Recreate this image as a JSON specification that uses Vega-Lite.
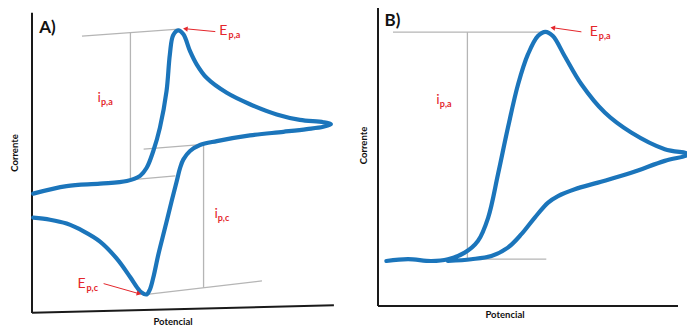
{
  "$schema": "https://vega.github.io/schema/vega-lite/v6.json",
  "padding": {"left": 9, "top": 7, "right": 0, "bottom": 0},
  "spacing": 23,
  "background": "white",
  "config": {
    "view": {"stroke": null},
    "axis": {"grid": false, "domain": false, "ticks": false, "labels": false, "titleFont": "Lato", "titleFontWeight": "bold", "titleFontSize": 9.5, "titleColor": "#111111"}
  },
  "datasets": {
    "cvA": [
      {"i": 1, "x": 0.4, "y": 39.8}, {"i": 2, "x": 11.5, "y": 42.3}, {"i": 3, "x": 22.6, "y": 43.1}, {"i": 4, "x": 31.5, "y": 44.0},
      {"i": 5, "x": 35.9, "y": 45.7}, {"i": 6, "x": 38.1, "y": 48.4}, {"i": 7, "x": 40.3, "y": 54.0}, {"i": 8, "x": 42.5, "y": 61.8},
      {"i": 9, "x": 44.7, "y": 74.0}, {"i": 10, "x": 45.8, "y": 86.2}, {"i": 11, "x": 46.9, "y": 92.6}, {"i": 12, "x": 48.6, "y": 94.2},
      {"i": 13, "x": 50.3, "y": 92.9}, {"i": 14, "x": 52.5, "y": 87.3}, {"i": 15, "x": 54.7, "y": 82.9}, {"i": 16, "x": 58.0, "y": 78.4},
      {"i": 17, "x": 64.7, "y": 73.4}, {"i": 18, "x": 72.4, "y": 69.6}, {"i": 19, "x": 81.3, "y": 66.2}, {"i": 20, "x": 89.0, "y": 64.4},
      {"i": 21, "x": 96.8, "y": 63.6}, {"i": 22, "x": 99.3, "y": 62.9}, {"i": 23, "x": 96.8, "y": 62.1}, {"i": 24, "x": 91.3, "y": 61.3},
      {"i": 25, "x": 83.5, "y": 60.4}, {"i": 26, "x": 72.4, "y": 59.2}, {"i": 27, "x": 61.4, "y": 57.3}, {"i": 28, "x": 55.8, "y": 56.0},
      {"i": 29, "x": 52.5, "y": 54.0}, {"i": 30, "x": 50.3, "y": 51.2}, {"i": 31, "x": 49.2, "y": 48.4}, {"i": 32, "x": 48.1, "y": 44.0},
      {"i": 33, "x": 46.4, "y": 37.3}, {"i": 34, "x": 44.2, "y": 28.4}, {"i": 35, "x": 42.0, "y": 19.6}, {"i": 36, "x": 40.3, "y": 11.8},
      {"i": 37, "x": 39.2, "y": 7.9}, {"i": 38, "x": 38.1, "y": 6.2}, {"i": 39, "x": 36.4, "y": 6.8}, {"i": 40, "x": 34.8, "y": 8.7},
      {"i": 41, "x": 32.6, "y": 12.0}, {"i": 42, "x": 28.1, "y": 18.2}, {"i": 43, "x": 22.6, "y": 23.8}, {"i": 44, "x": 17.0, "y": 27.3},
      {"i": 45, "x": 11.5, "y": 29.8}, {"i": 46, "x": 6.0, "y": 31.1}, {"i": 47, "x": 0.4, "y": 31.8}
    ],
    "cvB": [
      {"i": 1, "x": 2.8, "y": 15.1}, {"i": 2, "x": 10.0, "y": 15.7}, {"i": 3, "x": 17.8, "y": 15.1}, {"i": 4, "x": 23.3, "y": 15.7},
      {"i": 5, "x": 28.9, "y": 17.9}, {"i": 6, "x": 33.3, "y": 21.8}, {"i": 7, "x": 36.7, "y": 29.6}, {"i": 8, "x": 40.0, "y": 44.2},
      {"i": 9, "x": 43.3, "y": 59.8}, {"i": 10, "x": 46.7, "y": 74.4}, {"i": 11, "x": 50.0, "y": 84.5}, {"i": 12, "x": 53.3, "y": 90.6},
      {"i": 13, "x": 55.8, "y": 92.0}, {"i": 14, "x": 58.3, "y": 90.6}, {"i": 15, "x": 62.2, "y": 83.9}, {"i": 16, "x": 67.8, "y": 74.4},
      {"i": 17, "x": 75.6, "y": 64.9}, {"i": 18, "x": 84.4, "y": 58.2}, {"i": 19, "x": 95.6, "y": 52.6}, {"i": 20, "x": 103.3, "y": 51.1},
      {"i": 21, "x": 103.3, "y": 50.7}, {"i": 22, "x": 95.6, "y": 48.7}, {"i": 23, "x": 84.4, "y": 44.7}, {"i": 24, "x": 73.3, "y": 41.4},
      {"i": 25, "x": 65.6, "y": 39.2}, {"i": 26, "x": 60.0, "y": 36.9}, {"i": 27, "x": 56.7, "y": 34.7}, {"i": 28, "x": 52.2, "y": 29.6},
      {"i": 29, "x": 47.8, "y": 24.1}, {"i": 30, "x": 43.3, "y": 19.6}, {"i": 31, "x": 37.8, "y": 16.8}, {"i": 32, "x": 31.1, "y": 15.7},
      {"i": 33, "x": 23.3, "y": 15.1}
    ],
    "axesA": [
      {"x": 0, "y": 0, "x2": 0, "y2": 100.1},
      {"x": 0, "y": 0.1, "x2": 100.3, "y2": 2.6}
    ],
    "axesB": [
      {"x": 0, "y": 0, "x2": 0, "y2": 100},
      {"x": 0, "y": 0, "x2": 100, "y2": 0}
    ],
    "guidesA": [
      {"x": 16.6, "y": 92.3, "x2": 48.7, "y2": 94.6},
      {"x": 32.7, "y": 93.4, "x2": 32.7, "y2": 44.6},
      {"x": 31.6, "y": 44.3, "x2": 47.6, "y2": 45.7},
      {"x": 37.1, "y": 54.6, "x2": 57.0, "y2": 56.2},
      {"x": 57.0, "y": 55.7, "x2": 57.0, "y2": 8.4},
      {"x": 38.2, "y": 6.2, "x2": 76.4, "y2": 10.7}
    ],
    "guidesB": [
      {"x": 5.0, "y": 91.9, "x2": 56.1, "y2": 91.9},
      {"x": 29.8, "y": 91.9, "x2": 29.8, "y2": 15.7},
      {"x": 29.4, "y": 15.7, "x2": 56.1, "y2": 15.7}
    ],
    "arrowsA": [
      {"id": "Epa", "x": 60.9, "y": 93.8, "x2": 51.5, "y2": 94.7},
      {"id": "Epc", "x": 23.8, "y": 9.8, "x2": 35.0, "y2": 6.6}
    ],
    "arrowsB": [
      {"id": "Epa", "x": 67.8, "y": 92.0, "x2": 58.8, "y2": 93.3}
    ],
    "headsA": [
      {"id": "Epa", "x": 51.2, "y": 94.7},
      {"id": "Epc", "x": 35.3, "y": 6.5}
    ],
    "headsB": [
      {"id": "Epa", "x": 58.5, "y": 93.3}
    ],
    "textA": [
      {"kind": "panel", "t": "A)", "x": 2.4, "y": 93.4},
      {"kind": "main", "t": "E", "x": 62.2, "y": 92.7},
      {"kind": "sub", "t": "p,a", "x": 65.3, "y": 91.6},
      {"kind": "main", "t": "E", "x": 15.1, "y": 8.4},
      {"kind": "sub", "t": "p,c", "x": 18.1, "y": 7.3},
      {"kind": "main", "t": "i", "x": 21.8, "y": 70.4},
      {"kind": "sub", "t": "p,a", "x": 22.9, "y": 69.4},
      {"kind": "main", "t": "i", "x": 60.6, "y": 31.6},
      {"kind": "sub", "t": "p,c", "x": 61.7, "y": 30.6}
    ],
    "textB": [
      {"kind": "panel", "t": "B)", "x": 2.2, "y": 94.0},
      {"kind": "main", "t": "E", "x": 70.6, "y": 90.6},
      {"kind": "sub", "t": "p,a", "x": 73.6, "y": 89.5},
      {"kind": "main", "t": "i", "x": 19.4, "y": 67.7},
      {"kind": "sub", "t": "p,a", "x": 20.6, "y": 66.7}
    ]
  },
  "hconcat": [
    {
      "width": 301,
      "height": 305,
      "encoding": {
        "x": {"field": "x", "type": "quantitative", "scale": {"domain": [0, 100], "nice": false, "zero": false}, "axis": {"title": "Potencial", "titlePadding": 3, "titleX": 140.5}},
        "y": {"field": "y", "type": "quantitative", "scale": {"domain": [0, 101.67], "nice": false, "zero": false}, "axis": {"title": "Corrente", "titlePadding": 12.7, "titleY": 144.5}}
      },
      "layer": [
        {"data": {"name": "guidesA"}, "mark": {"type": "rule", "stroke": "#b5b5b5", "strokeWidth": 1.3}, "encoding": {"x2": {"field": "x2"}, "y2": {"field": "y2"}}},
        {"data": {"name": "axesA"}, "mark": {"type": "rule", "stroke": "#1a1a1a", "strokeWidth": 2}, "encoding": {"x2": {"field": "x2"}, "y2": {"field": "y2"}}},
        {"data": {"name": "cvA"}, "mark": {"type": "line", "stroke": "#1b75bb", "strokeWidth": 4.2, "interpolate": "catmull-rom", "strokeCap": "round", "strokeJoin": "round"}, "encoding": {"order": {"field": "i", "type": "quantitative"}}},
        {"data": {"name": "arrowsA"}, "mark": {"type": "rule", "stroke": "#e4262b", "strokeWidth": 1}, "encoding": {"x2": {"field": "x2"}, "y2": {"field": "y2"}}},
        {"data": {"name": "headsA"}, "transform": [{"filter": "datum.id == 'Epa'"}], "mark": {"type": "point", "shape": "triangle", "filled": true, "fill": "#e4262b", "opacity": 1, "size": 28, "angle": 276}},
        {"data": {"name": "headsA"}, "transform": [{"filter": "datum.id == 'Epc'"}], "mark": {"type": "point", "shape": "triangle", "filled": true, "fill": "#e4262b", "opacity": 1, "size": 28, "angle": 106}},
        {"data": {"name": "textA"}, "transform": [{"filter": "datum.kind == 'panel'"}], "mark": {"type": "text", "font": "Lato", "fontWeight": "bold", "fontSize": 17, "align": "left", "baseline": "alphabetic", "fill": "#111111"}, "encoding": {"text": {"field": "t"}}},
        {"data": {"name": "textA"}, "transform": [{"filter": "datum.kind == 'main'"}], "mark": {"type": "text", "font": "Lato", "fontSize": 14, "align": "left", "baseline": "alphabetic", "fill": "#e4262b"}, "encoding": {"text": {"field": "t"}}},
        {"data": {"name": "textA"}, "transform": [{"filter": "datum.kind == 'sub'"}], "mark": {"type": "text", "font": "Lato", "fontWeight": "bold", "fontSize": 9, "align": "left", "baseline": "alphabetic", "fill": "#e4262b"}, "encoding": {"text": {"field": "t"}}}
      ]
    },
    {
      "width": 312,
      "height": 298,
      "encoding": {
        "x": {"field": "x", "type": "quantitative", "scale": {"domain": [0, 104], "nice": false, "zero": false}, "axis": {"title": "Potencial", "titlePadding": 3, "titleX": 126.5}},
        "y": {"field": "y", "type": "quantitative", "scale": {"domain": [0, 100], "nice": false, "zero": false}, "axis": {"title": "Corrente", "titlePadding": 10, "titleY": 137}}
      },
      "layer": [
        {"data": {"name": "guidesB"}, "mark": {"type": "rule", "stroke": "#b5b5b5", "strokeWidth": 1.3}, "encoding": {"x2": {"field": "x2"}, "y2": {"field": "y2"}}},
        {"data": {"name": "axesB"}, "mark": {"type": "rule", "stroke": "#1a1a1a", "strokeWidth": 2}, "encoding": {"x2": {"field": "x2"}, "y2": {"field": "y2"}}},
        {"data": {"name": "cvB"}, "mark": {"type": "line", "stroke": "#1b75bb", "strokeWidth": 4.2, "interpolate": "catmull-rom", "strokeCap": "round", "strokeJoin": "round"}, "encoding": {"order": {"field": "i", "type": "quantitative"}}},
        {"data": {"name": "arrowsB"}, "mark": {"type": "rule", "stroke": "#e4262b", "strokeWidth": 1}, "encoding": {"x2": {"field": "x2"}, "y2": {"field": "y2"}}},
        {"data": {"name": "headsB"}, "mark": {"type": "point", "shape": "triangle", "filled": true, "fill": "#e4262b", "opacity": 1, "size": 28, "angle": 278}},
        {"data": {"name": "textB"}, "transform": [{"filter": "datum.kind == 'panel'"}], "mark": {"type": "text", "font": "Lato", "fontWeight": "bold", "fontSize": 17, "align": "left", "baseline": "alphabetic", "fill": "#111111"}, "encoding": {"text": {"field": "t"}}},
        {"data": {"name": "textB"}, "transform": [{"filter": "datum.kind == 'main'"}], "mark": {"type": "text", "font": "Lato", "fontSize": 14, "align": "left", "baseline": "alphabetic", "fill": "#e4262b"}, "encoding": {"text": {"field": "t"}}},
        {"data": {"name": "textB"}, "transform": [{"filter": "datum.kind == 'sub'"}], "mark": {"type": "text", "font": "Lato", "fontWeight": "bold", "fontSize": 9, "align": "left", "baseline": "alphabetic", "fill": "#e4262b"}, "encoding": {"text": {"field": "t"}}}
      ]
    }
  ]
}
